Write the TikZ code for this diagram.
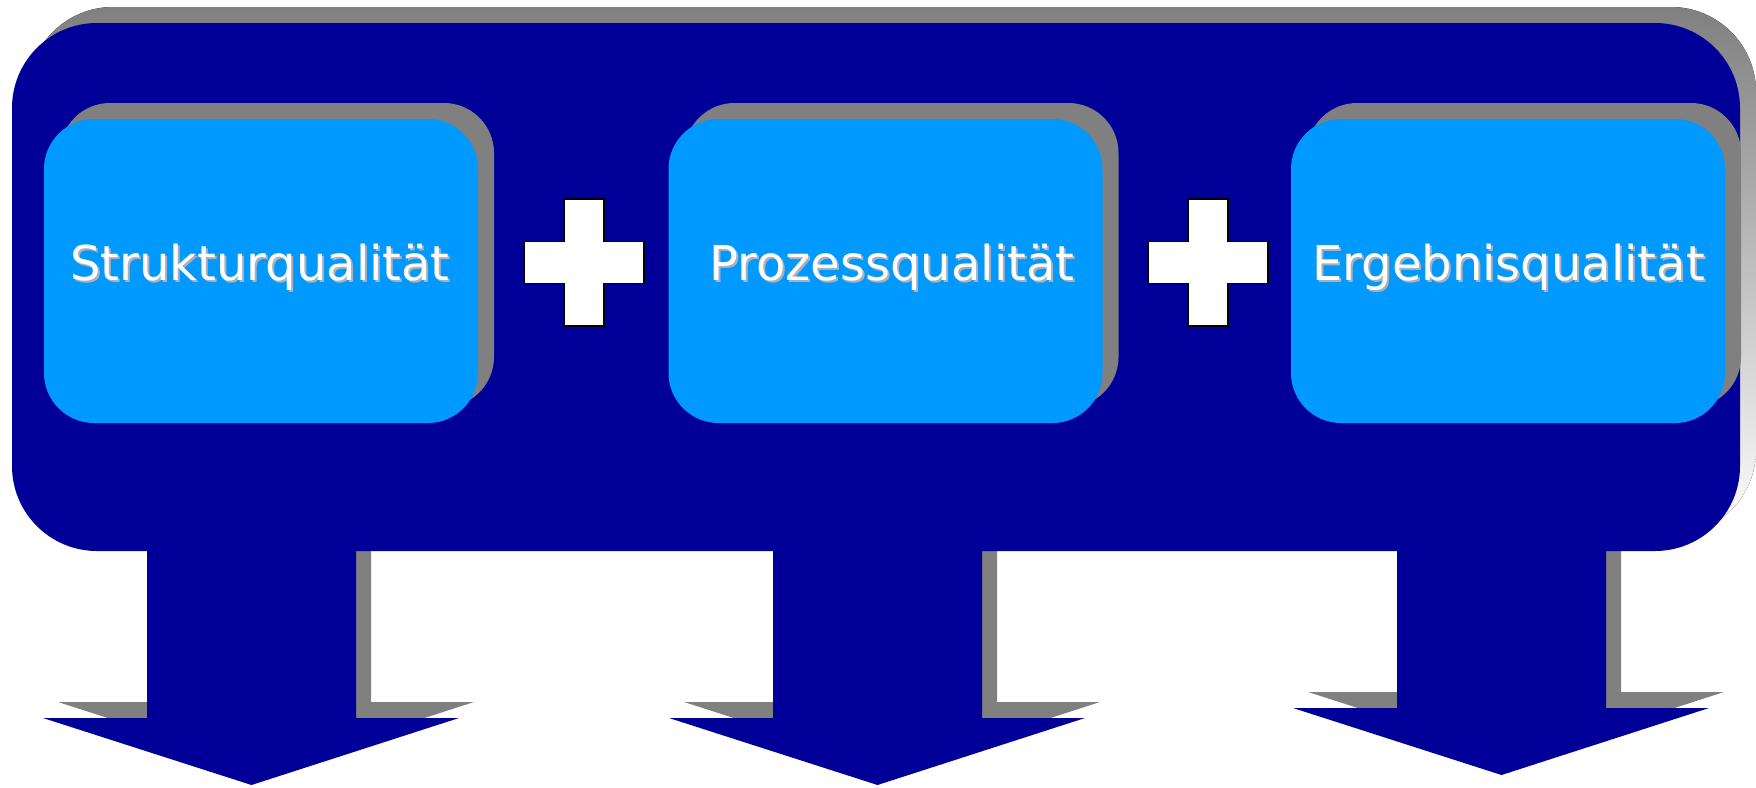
\documentclass[tikz,border=0pt]{standalone}
\usepackage{fontspec}
\setmainfont{DejaVu Sans}
\definecolor{navy}{RGB}{0,0,153}
\definecolor{sky}{RGB}{0,153,255}
\definecolor{shade}{RGB}{128,128,128}
\definecolor{txtshade}{RGB}{175,175,185}
\begin{document}
\begin{tikzpicture}[x=1pt,y=-1pt,
  qbox/.style={fill=sky, rounded corners=50pt, minimum width=434pt, minimum height=304pt, inner sep=0pt, draw=none},
  qshadow/.style={qbox, fill=shade},
  qtext/.style={font=\fontsize{48}{48}\selectfont, text=white, inner sep=0pt, anchor=base},
  qtextshadow/.style={qtext, text=txtshade},
  plusshape/.style={fill=white, draw=black, line width=1.2pt},
  bigarrow/.style={fill=navy},
  arrowshadow/.style={fill=shade}
]
\useasboundingbox (0,0) rectangle (1756,787);
% big frame
\fill[shade, rounded corners=85pt] (28,7) rectangle (1756,535);
% arrow shadows
\foreach \dx/\dy in {0/0, 626/0, 1250/-10}{
  \fill[arrowshadow, shift={(\dx+15,\dy-16)}] (147,540) -- (147,718) -- (43,718) -- (251.5,785) -- (459,718) -- (356,718) -- (356,540) -- cycle;
}
\fill[navy, rounded corners=85pt] (12,23) rectangle (1740,551);
% arrows
\foreach \dx/\dy in {0/0, 626/0, 1250/-10}{
  \fill[bigarrow, shift={(\dx,\dy)}] (147,540) -- (147,718) -- (43,718) -- (251.5,785) -- (459,718) -- (356,718) -- (356,540) -- cycle;
}
% boxes
\node[qshadow] (s1) at (277,255) {};
\node[qshadow] (s2) at (901.5,255) {};
\node[qshadow] (s3) at (1524,255) {};
\node[qbox] (b1) at (261,271) {};
\node[qbox] (b2) at (885.5,271) {};
\node[qbox] (b3) at (1508,271) {};
% texts
\node[qtextshadow] at (262,282) {Strukturqualität};
\node[qtext] (t1) at (260,280) {Strukturqualität};
\node[qtextshadow] at (894,282) {Prozessqualität};
\node[qtext] (t2) at (892,280) {Prozessqualität};
\node[qtextshadow] at (1510.5,282) {Ergebnisqualität};
\node[qtext] (t3) at (1508.5,280) {Ergebnisqualität};
% plus signs
\coordinate (p1) at (584,262.5);
\coordinate (p2) at (1208,262.5);
\foreach \p in {p1,p2}{
  \draw[plusshape] (\p) ++(-20,-63.5) -- ++(40,0) -- ++(0,42.5) -- ++(40,0) -- ++(0,42) -- ++(-40,0) -- ++(0,42.5) -- ++(-40,0) -- ++(0,-42.5) -- ++(-40,0) -- ++(0,-42) -- ++(40,0) -- cycle;
}
\end{tikzpicture}
\end{document}
